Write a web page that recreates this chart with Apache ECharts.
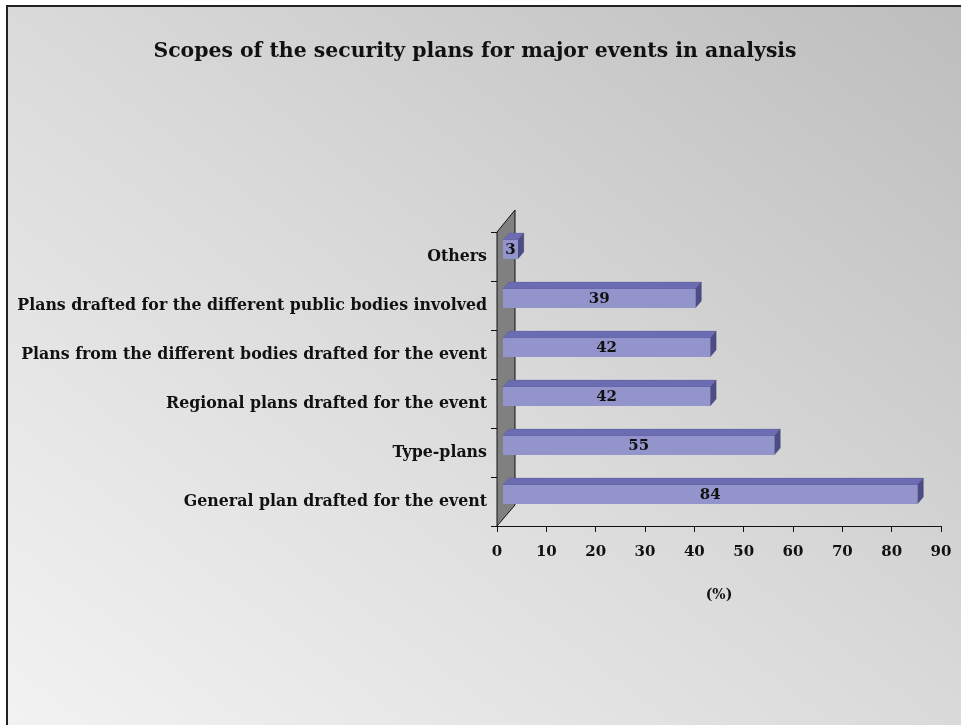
<!DOCTYPE html>
<html>
<head>
<meta charset="utf-8">
<script src="https://cdn.jsdelivr.net/npm/echarts@6/dist/echarts.min.js"></script>
<style>
html,body{margin:0;padding:0;width:961px;height:725px;overflow:hidden;background:#fff;}
#bg{position:absolute;left:6px;top:5px;width:970px;height:740px;border-left:2px solid #222;border-top:2px solid #222;
background:linear-gradient(to top right,#f3f3f3 0%,#dadada 50%,#bdbdbd 100%);}
#chart{position:absolute;left:0;top:0;width:961px;height:725px;}
</style>
</head>
<body>
<div id="bg"></div>
<div id="chart"></div>
<script>
const titleText = 'Scopes of the security plans for major events in analysis';
const categories = [
  'General plan drafted for the event',
  'Type-plans',
  'Regional plans drafted for the event',
  'Plans from the different bodies drafted for the event',
  'Plans drafted for the different public bodies involved',
  'Others'
];
const values = [84, 55, 42, 42, 39, 3];
const xAxisName = '(%)';
const xMin = 0, xMax = 90, xStep = 10;

const FONT = 'DejaVu Serif';
const DX = 6, DY = 7;       // bar depth offset
const WDX = 18, WDY = 21;   // wall depth offset
const BAR_H = 19;

const chart = echarts.init(document.getElementById('chart'), null, {renderer: 'canvas'});

chart.setOption({
  backgroundColor: 'transparent',
  animation: false,
  title: {
    text: titleText,
    left: 470,
    textAlign: 'center',
    top: 37,
    textStyle: {fontFamily: FONT, fontWeight: 'bold', fontSize: 20.4, color: '#111'}
  },
  grid: {left: 497, right: 20, top: 232, bottom: 199, containLabel: false},
  xAxis: {
    type: 'value', min: xMin, max: xMax, interval: xStep,
    name: xAxisName, nameLocation: 'middle', nameGap: 62,
    nameTextStyle: {fontFamily: FONT, fontWeight: 'bold', fontSize: 14, color: '#111'},
    axisLine: {show: true, lineStyle: {color: '#111', width: 1}},
    axisTick: {show: true, length: 6, lineStyle: {color: '#111'}},
    axisLabel: {margin: 19, fontFamily: FONT, fontWeight: 'bold', fontSize: 15, color: '#111'},
    splitLine: {show: false}
  },
  yAxis: {
    type: 'category', data: categories,
    axisLine: {show: true, lineStyle: {color: '#111', width: 1}},
    axisTick: {show: true, length: 6, lineStyle: {color: '#111'}},
    axisLabel: {margin: 10, fontFamily: FONT, fontWeight: 'bold', fontSize: 15.8, color: '#111'}
  },
  series: [
    {
      type: 'custom',
      z: 1,
      data: [[0, 0]],
      encode: {x: 0, y: 1},
      renderItem: function (params, api) {
        const cs = params.coordSys;
        const x = cs.x, top = cs.y, bot = cs.y + cs.height;
        return {
          type: 'polygon',
          shape: {points: [[x, top], [x + WDX, top - WDY - 1], [x + WDX, bot - WDY], [x, bot]]},
          style: {fill: '#808080', stroke: '#111', lineWidth: 1}
        };
      }
    },
    {
      type: 'custom',
      z: 3,
      data: values.map((v, i) => [v, i]),
      encode: {x: 0, y: 1},
      renderItem: function (params, api) {
        const v = api.value(0), c = api.value(1);
        const p0 = api.coord([0, c]);
        const p1 = api.coord([v, c]);
        const x0 = p0[0] + DX, x1 = p1[0] + DX;
        const yc = p0[1] - DY;
        const yt = yc - BAR_H / 2, yb = yc + BAR_H / 2;
        return {
          type: 'group',
          children: [
            {type: 'polygon', shape: {points: [[x0, yt], [x0 + DX, yt - DY], [x1 + DX, yt - DY], [x1, yt]]},
             style: {fill: '#6c6cb2', stroke: 'rgba(60,60,110,0.4)', lineWidth: 0.5}},
            {type: 'polygon', shape: {points: [[x1, yt], [x1 + DX, yt - DY], [x1 + DX, yb - DY], [x1, yb]]},
             style: {fill: '#4c4c86', stroke: 'rgba(40,40,80,0.4)', lineWidth: 0.5}},
            {type: 'rect', shape: {x: x0, y: yt, width: x1 - x0, height: BAR_H},
             style: {fill: '#9494cc'}},
            {type: 'text', x: (x0 + x1) / 2, y: yc + 1,
             style: {text: String(v), fill: '#111', font: 'bold 15px "' + FONT + '"', align: 'center', verticalAlign: 'middle'}}
          ]
        };
      }
    }
  ]
});
</script>
</body>
</html>
